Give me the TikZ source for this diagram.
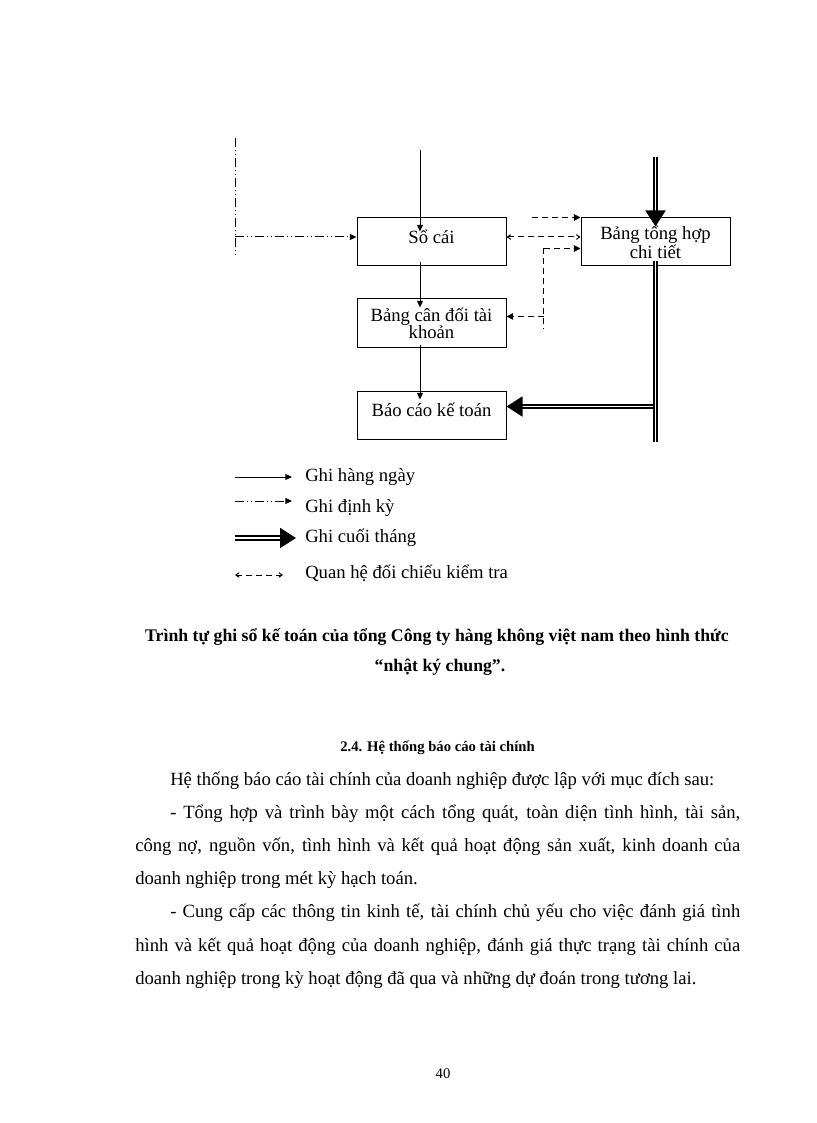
\documentclass[tikz,border=0pt]{standalone}
\usepackage{fontspec}
\setmainfont{Liberation Serif}
\usetikzlibrary{calc, arrows.meta, positioning}
\newlength\pxu
\setlength\pxu{0.75bp}

\begin{document}
\begin{tikzpicture}[
        x=0.75bp, y=0.75bp,
        node distance = 24bp and 55.5bp,
        box/.style = {draw, rectangle, line width=0.75bp, minimum width=111.75bp, minimum height=36bp, inner sep=0pt, align=center, font=\fontsize{14bp}{12.75bp}\selectfont},
        topbox/.style = {box, text depth=8bp},
        daily/.style = {line width=0.75bp, -{Triangle[length=5bp, width=4.5bp]}},
        periodic/.style = {line width=0.75bp, dash pattern=on 7bp off 2bp on 1bp off 2bp on 1bp off 2bp},
        periodtip/.style = {periodic, -{Triangle[length=5bp, width=4.5bp]}},
        monthly/.style = {double, double distance=1.3bp, line width=1.4bp},
        monthtip/.style = {monthly, -{Triangle[length=12bp, width=15bp]}},
        check/.style = {line width=0.75bp, dash pattern=on 4.5bp off 3bp},
        checktip/.style = {check, -{Triangle[length=5bp, width=5bp]}},
        checkboth/.style = {check, {Straight Barb[length=2.5bp, width=3.5bp]}-{Straight Barb[length=2.5bp, width=3.5bp]}},
        legtext/.style = {anchor=west, inner sep=0pt, font=\fontsize{14bp}{16bp}\selectfont},
        bodyline/.style = {anchor=base west, inner sep=0pt, font=\fontsize{14bp}{16bp}\selectfont}
    ]

        \fill[white] (0,0) rectangle (816,-1123);
        \useasboundingbox (0,0) rectangle (816,-1123);

        % Boxes
        \node (ledger) [topbox] at (431.5,-242) {Sổ cái};
        \node (balance) [box, below=of ledger] {Bảng cân đối tài\\khoản};
        \node (report) [topbox, below=32.25bp of balance] {Báo cáo kế toán};
        \node (detail) [box, right=of ledger] {Bảng tổng hợp\\chi tiết};

        % Daily entries
        \coordinate (dailytop) at ($(ledger.north)+(-11.5,67)$);
        \draw [daily] (dailytop) -- ($(ledger.north)+(-11.5,-14)$);
        \draw [daily] ($(ledger.south)+(-11.5,4)$) -- ($(balance.north)+(-11.5,-9)$);
        \draw [daily] ($(balance.south)+(-11.5,3)$) -- ($(report.north)+(-11.5,-9)$);

        % Periodic entries
        \coordinate (pertop) at (235,-138);
        \coordinate (perbot) at (235,-257);
        \coordinate (perjoin) at (235,-237);
        \draw [periodic] (pertop) -- (perbot);
        \draw [periodtip] (perjoin) -- (perjoin -| ledger.west);

        % Month-end entries
        \coordinate (mtop) at ($(detail.north)+(0,60)$);
        \coordinate (mjoin) at ($(detail.south)+(0,-140)$);
        \coordinate (mbot) at ($(detail.south)+(0,-175)$);
        \draw [monthtip] (mtop) -- ($(detail.north)+(0,-9)$);
        \draw [monthtip] (mjoin) -- (mjoin -| report.east);
        \draw [monthly] ($(detail.south)+(0,5)$) -- (mbot);

        % Cross-checks
        \draw [checktip] ($(detail.north west)+(-49,0)$) -- (detail.north west);
        \draw [checkboth] (ledger.east |- perjoin) -- (detail.west |- perjoin);
        \coordinate (chkcorner) at ($(detail.west)+(-37,-6.5)$);
        \coordinate (chkbal) at ($(chkcorner)+(0,-68)$);
        \coordinate (chkbot) at ($(chkcorner)+(0,-81)$);
        \draw [checktip] (chkcorner) -- (chkcorner -| detail.west);
        \draw [check] (chkcorner) -- (chkbot);
        \draw [checktip] (chkbal) -- (chkbal -| balance.east);

        % Legend
        \node (legdaily) [legtext] at (305,-477) {Ghi hàng ngày};
        \node (legperiod) [legtext] at (305,-508) {Ghi định kỳ};
        \node (legmonth) [legtext] at (305,-538) {Ghi cuối tháng};
        \node (legcheck) [legtext] at (305,-573) {Quan hệ đối chiếu kiểm tra};
        \draw [daily] ($(legdaily.west)+(-70,0)$) -- ($(legdaily.west)+(-13,0)$);
        \draw [periodtip] ($(legperiod.west)+(-70,7)$) -- ($(legperiod.west)+(-13,7)$);
        \draw [monthtip] ($(legmonth.west)+(-70,0)$) -- ($(legmonth.west)+(-9,0)$);
        \draw [checkboth] ($(legcheck.west)+(-70,-2)$) -- ($(legcheck.west)+(-22,-2)$);

        % Caption
        \node (caption1) [font=\bfseries\fontsize{13.3bp}{16bp}\selectfont] at (437,-637) {Trình tự ghi sổ kế toán của tổng Công ty hàng không việt nam theo hình thức};
        \node (caption2) [font=\bfseries\fontsize{13.3bp}{16bp}\selectfont] at (440,-667) {“nhật ký chung”.};

        % Section text
        \node (heading) [font=\bfseries\fontsize{11bp}{13bp}\selectfont] at (437.5,-748) {2.4. Hệ thống báo cáo tài chính};
        \node (para1) [bodyline] at (170,-785) {Hệ thống báo cáo tài chính của doanh nghiệp được lập với mục đích sau:};
        \node (para2a) [bodyline] at (170,-818) {\makebox[570\pxu][s]{- Tổng hợp và trình bày một cách tổng quát, toàn diện tình hình, tài sản,}};
        \node (para2b) [bodyline] at (135,-851) {\makebox[605\pxu][s]{công nợ, nguồn vốn, tình hình và kết quả hoạt động sản xuất, kinh doanh của}};
        \node (para2c) [bodyline] at (135,-884) {doanh nghiệp trong mét kỳ hạch toán.};
        \node (para3a) [bodyline] at (170,-917) {\makebox[570\pxu][s]{- Cung cấp các thông tin kinh tế, tài chính chủ yếu cho việc đánh giá tình}};
        \node (para3b) [bodyline] at (135,-951) {\makebox[605\pxu][s]{hình và kết quả hoạt động của doanh nghiệp, đánh giá thực trạng tài chính của}};
        \node (para3c) [bodyline] at (135,-984) {doanh nghiệp trong kỳ hoạt động đã qua và những dự đoán trong tương lai.};

        % Page number
        \node (pagenum) [font=\fontsize{11bp}{13bp}\selectfont] at (443,-1074) {40};

    \end{tikzpicture}
\end{document}
